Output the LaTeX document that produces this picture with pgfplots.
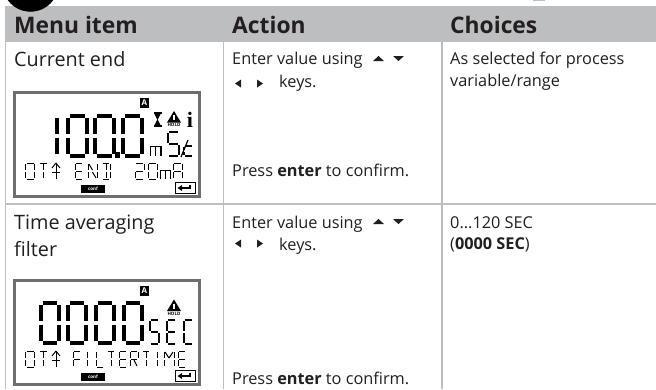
\documentclass[border=0pt]{standalone}
\usepackage{pgfplots}
\pgfplotsset{compat=1.18}
\usepackage{fontspec}
\setmainfont{Open Sans}
\newfontfamily\serifi{Liberation Serif}
\definecolor{hdr}{HTML}{BCBEC0}
\definecolor{ink}{HTML}{231F20}
\definecolor{frm}{HTML}{6D6E71}
\newcommand\fs[1]{\fontsize{#1}{#1}\selectfont}
\def\LW{1}\def\G{1}
\newcommand\Sg[4]{\edef\tmp{\noexpand\addplot[forget plot,draw=black,line width=\LW pt] coordinates {(#1,#2)(#3,#4)};}\tmp}
\newcommand\Lc[4]{%
\pgfmathsetmacro\xl{#1}\pgfmathsetmacro\xr{#1+#3}\pgfmathsetmacro\xm{#1+#3/2}%
\pgfmathsetmacro\xa{#1+\G}\pgfmathsetmacro\xb{#1+#3-\G}%
\pgfmathsetmacro\yt{#2}\pgfmathsetmacro\yb{#2+#4}\pgfmathsetmacro\ym{#2+#4/2}%
\pgfmathsetmacro\ya{#2+\G}\pgfmathsetmacro\yc{#2+#4/2-\G}\pgfmathsetmacro\yd{#2+#4/2+\G}\pgfmathsetmacro\ye{#2+#4-\G}}
\newcommand\sA{\Sg{\xa}{\yt}{\xb}{\yt}}
\newcommand\sB{\Sg{\xr}{\ya}{\xr}{\yc}}
\newcommand\sC{\Sg{\xr}{\yd}{\xr}{\ye}}
\newcommand\sD{\Sg{\xa}{\yb}{\xb}{\yb}}
\newcommand\sE{\Sg{\xl}{\yd}{\xl}{\ye}}
\newcommand\sF{\Sg{\xl}{\ya}{\xl}{\yc}}
\newcommand\sG{\Sg{\xa}{\ym}{\xb}{\ym}}
\newcommand\sI{\Sg{\xm}{\ya}{\xm}{\yc}}
\newcommand\sJ{\Sg{\xm}{\yd}{\xm}{\ye}}
\newcommand\sM{\Sg{\xa}{\ya}{\xm}{\yc}}
\newcommand\sK{\Sg{\xb}{\ya}{\xm}{\yc}}
\newcommand\sN{\Sg{\xm}{\yd}{\xb}{\ye}}
\newcommand\zero{\sA\sB\sC\sD\sE\sF}
\newcommand\Rct[5]{\addplot[forget plot,#5] coordinates {(#1,#2)(#3,#2)(#3,#4)(#1,#4)} -- cycle;}
\newcommand\Tri[7]{\addplot[forget plot,draw=none,fill=#7] coordinates {(#1,#2)(#3,#4)(#5,#6)} -- cycle;}
\begin{document}
\begin{tikzpicture}
\begin{axis}[width=656pt,height=389pt,scale only axis,xmin=0,xmax=656,ymin=0,ymax=389,y dir=reverse,hide axis,clip=true]
\Rct{0}{0}{656}{389}{draw=none,fill=white}
% header band and rules
\Rct{5}{6}{656}{42}{draw=none,fill=hdr}
\addplot[forget plot,draw=black,fill=black,smooth] coordinates {(8,0)(10.5,3)(13.9,6)(19,9)(23.1,10.5)(30.5,11.5)(37.9,10.5)(42,9)(47.1,6)(50.5,3)(53,0)} -- cycle;
\Rct{533}{0}{545}{1}{draw=none,fill=hdr}
\addplot[forget plot,hdr,line width=1.3pt] coordinates {(5.5,42)(5.5,389)};
\addplot[forget plot,hdr,line width=1.1pt] coordinates {(223.5,42)(223.5,389)};
\addplot[forget plot,hdr,line width=1.1pt] coordinates {(442,42)(442,389)};
\addplot[forget plot,hdr,line width=1.1pt] coordinates {(5,204)(656,204)};
% LCD frames
\Rct{14.5}{92.5}{199.5}{196}{draw=frm,line width=3pt,fill=white}
\Rct{14.5}{280.5}{199.5}{384}{draw=frm,line width=3pt,fill=white}
% LCD 1 big digits
\def\LW{3.5}\def\G{1.6}
\Lc{47}{116}{10}{40}\sB\sC
\Lc{68}{116}{19}{40}\zero
\Lc{95}{116}{19}{40}\zero
\Lc{123}{116}{19}{40}\zero
\Rct{115}{152}{119.5}{157.5}{draw=none,fill=black}
% unit
\def\LW{2}\def\G{1}
\Lc{168}{132}{11}{24}\sA\sF\sG\sC\sD
\def\LW{1.2}
\Sg{150.5}{156}{150.5}{146}\Sg{150.5}{146.5}{161}{146.5}\Sg{161}{146}{161}{156}\Sg{155.7}{147}{155.7}{156}
\Sg{181}{157}{188}{140}
\def\LW{1.6}
\Lc{184}{146}{9}{10}\sA\sF\sE\sD
% LCD 1 small text
\def\LW{1}\def\G{1}
\Lc{25.5}{163}{9}{16}\zero
\Lc{39}{163}{9}{16}\sA\sI\sJ
\Sg{56}{163}{56}{179}\Sg{52}{168}{56}{163}\Sg{60}{168}{56}{163}\Sg{52}{172}{60}{172}
\Lc{75}{163}{8}{16}\sA\sF\sE\sD\sG
\Lc{88}{163}{9}{16}\sF\sE\sB\sC\sM\sN
\Lc{102}{163}{8}{16}\sA\sB\sC\sD\sI\sJ
\Lc{135}{163}{9}{16}\sA\sB\sG\sE\sD
\Lc{148}{163}{9}{16}\zero
\Sg{160.5}{179}{160.5}{170}\Sg{160.5}{170.5}{170}{170.5}\Sg{170}{170}{170}{179}\Sg{165.2}{171}{165.2}{179}
\Lc{173}{163}{9}{16}\sA\sB\sC\sE\sF\sG
% LCD 2 big digits
\def\LW{3.5}\def\G{1.6}
\Lc{41}{303}{18}{40}\zero
\Lc{68}{303}{18}{40}\zero
\Lc{96}{303}{18}{40}\zero
\Lc{124}{303}{18}{40}\zero
% SEC
\def\LW{1.8}\def\G{1}
\Lc{150}{320}{9}{24}\sA\sF\sG\sC\sD
\Lc{167}{320}{9}{24}\sA\sF\sE\sD\sG
\Lc{184}{320}{9}{24}\sA\sF\sE\sD
% LCD 2 small text
\def\LW{1}\def\G{1}
\Lc{25.5}{351}{9}{16}\zero
\Lc{39}{351}{9}{16}\sA\sI\sJ
\Sg{56}{351}{56}{367}\Sg{52}{356}{56}{351}\Sg{60}{356}{56}{351}\Sg{52}{360}{60}{360}
\Lc{73}{351}{8}{16}\sA\sF\sE\sG
\Sg{87}{352}{87}{358}\Sg{87}{360}{87}{366}
\Lc{96}{351}{8}{16}\sF\sE\sD
\Lc{107}{351}{8}{16}\sA\sI\sJ
\Lc{119}{351}{8}{16}\sA\sF\sE\sD\sG
\Lc{130}{351}{8}{16}\sA\sB\sE\sF\sG\sN
\Lc{142}{351}{8}{16}\sA\sI\sJ
\Sg{157}{352}{157}{358}\Sg{157}{360}{157}{366}
\Lc{164}{351}{10}{16}\sF\sE\sB\sC\sM\sK
\Lc{178}{351}{8}{16}\sA\sF\sE\sD\sG
% A badges, conf bars, enter boxes
\Rct{140}{98}{149}{108}{draw=none,fill=black}
\node[font=\fs{8}\bfseries,text=white] at (axis cs:144.5,103) {A};
\Rct{140}{286}{149}{296}{draw=none,fill=black}
\node[font=\fs{8}\bfseries,text=white] at (axis cs:144.5,291) {A};
\Rct{81}{185}{105}{193}{draw=none,fill=black}
\node[font=\fs{4.5}\bfseries,text=white] at (axis cs:93,189) {conf};
\Rct{81}{373}{105}{381}{draw=none,fill=black}
\node[font=\fs{4.5}\bfseries,text=white] at (axis cs:93,377) {conf};
\Rct{175}{182}{195}{193}{draw=black,line width=0.9pt,fill=white}
\Rct{175}{370}{195}{381}{draw=black,line width=0.9pt,fill=white}
\addplot[forget plot,black,line width=1.2pt] coordinates {(190,184.5)(190,188)(181,188)};
\Tri{177.5}{188}{182}{185}{182}{191}{black}
\addplot[forget plot,black,line width=1.2pt] coordinates {(190,372.5)(190,376)(181,376)};
\Tri{177.5}{376}{182}{373}{182}{379}{black}
% icons LCD 1
\Rct{153.5}{112}{161.5}{114}{draw=none,fill=black}
\Rct{153.5}{125}{161.5}{127}{draw=none,fill=black}
\Tri{154.5}{114}{160.5}{114}{157.5}{120}{black}
\Tri{154.5}{125}{160.5}{125}{157.5}{119}{black}
\Tri{167}{122.5}{181}{122.5}{174}{111}{black}
\Rct{173.2}{115}{174.8}{120}{draw=none,fill=white}
\node[font=\fs{4.5}\bfseries,text=black] at (axis cs:174,125) {HOLD};
\node[font=\fs{22}\serifi\bfseries,text=black,anchor=base] at (axis cs:190,127.5) {i};
% icon LCD 2
\Tri{167}{311}{181}{311}{174}{299.5}{black}
\Rct{173.2}{303.5}{174.8}{308.5}{draw=none,fill=white}
\node[font=\fs{4.5}\bfseries,text=black] at (axis cs:174,313.5) {HOLD};
% header text
\node[font=\fs{22.8}\bfseries,text=ink,anchor=base west,inner sep=0pt] at (axis cs:14,33) {Menu item};
\node[font=\fs{22.8}\bfseries,text=ink,anchor=base west,inner sep=0pt] at (axis cs:232,33) {Action};
\node[font=\fs{22.8}\bfseries,text=ink,anchor=base west,inner sep=0pt] at (axis cs:450,33) {Choices};
% column 1
\node[font=\fs{19.8},text=ink,anchor=base west,inner sep=0pt] at (axis cs:14,66) {Current end};
\node[font=\fs{19.8},text=ink,anchor=base west,inner sep=0pt] at (axis cs:14,229) {Time averaging};
\node[font=\fs{19.8},text=ink,anchor=base west,inner sep=0pt] at (axis cs:14,256) {filter};
% column 2
\node[font=\fs{16.3},text=ink,anchor=base west,inner sep=0pt] at (axis cs:232,64) {Enter value using};
\node[font=\fs{16.3},text=ink,anchor=base west,inner sep=0pt] at (axis cs:279,87) {keys.};
\node[font=\fs{16.3},text=ink,anchor=base west,inner sep=0pt] at (axis cs:232,176) {Press \textbf{enter} to confirm.};
\node[font=\fs{16.3},text=ink,anchor=base west,inner sep=0pt] at (axis cs:232,228) {Enter value using};
\node[font=\fs{16.3},text=ink,anchor=base west,inner sep=0pt] at (axis cs:279,250) {keys.};
\node[font=\fs{16.3},text=ink,anchor=base west,inner sep=0pt] at (axis cs:232,384) {Press \textbf{enter} to confirm.};
\Tri{373}{61}{384}{61}{378.5}{56}{ink}
\Tri{393}{56}{404}{56}{398.5}{61}{ink}
\Tri{235}{83.5}{241}{79.5}{241}{87.5}{ink}
\Tri{263}{83.5}{257}{79.5}{257}{87.5}{ink}
\Tri{373}{224}{384}{224}{378.5}{219}{ink}
\Tri{393}{219}{404}{219}{398.5}{224}{ink}
\Tri{235}{243.5}{241}{239.5}{241}{247.5}{ink}
\Tri{263}{243.5}{257}{239.5}{257}{247.5}{ink}
% column 3
\node[font=\fs{16.3},text=ink,anchor=base west,inner sep=0pt] at (axis cs:450,64) {As selected for process};
\node[font=\fs{16.3},text=ink,anchor=base west,inner sep=0pt] at (axis cs:450,86) {variable/range};
\node[font=\fs{16.3},text=ink,anchor=base west,inner sep=0pt] at (axis cs:450,228) {0...120 SEC};
\node[font=\fs{16.3},text=ink,anchor=base west,inner sep=0pt] at (axis cs:450,249) {(\textbf{0000 SEC})};
\end{axis}
\end{tikzpicture}
\end{document}
